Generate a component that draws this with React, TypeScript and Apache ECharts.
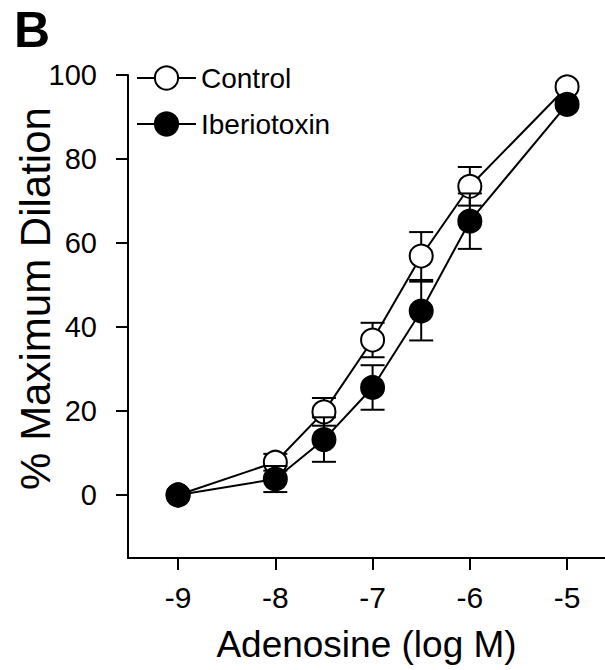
import React, { useEffect, useRef } from "react";
import * as echarts from "echarts";

const xValues = [-9, -8, -7.5, -7, -6.5, -6, -5];
const controlMean = [0, 7.8, 19.8, 36.9, 56.9, 73.5, 97.2];
const controlSem = [0, 2.0, 3.3, 4.1, 5.7, 4.6, 0.8];
const iberMean = [0, 3.8, 13.2, 25.6, 43.8, 65.2, 93.0];
const iberSem = [0, 3.1, 5.3, 5.3, 7.0, 6.6, 0.8];
const xTicks = [-9, -8, -7, -6, -5];
const yTicks = [0, 20, 40, 60, 80, 100];

const FONT = "Liberation Sans, Arial, sans-serif";

function errorRender(params: any, api: any) {
  const x = api.value(0);
  const y = api.value(1);
  const e = api.value(2);
  if (!e) return null;
  const hi = api.coord([x, y + e]);
  const lo = api.coord([x, y - e]);
  const w = 12;
  const st = { stroke: "#000", lineWidth: 2 };
  return {
    type: "group",
    children: [
      { type: "line", shape: { x1: hi[0], y1: hi[1], x2: lo[0], y2: lo[1] }, style: st },
      { type: "line", shape: { x1: hi[0] - w, y1: hi[1], x2: hi[0] + w, y2: hi[1] }, style: st },
      { type: "line", shape: { x1: lo[0] - w, y1: lo[1], x2: lo[0] + w, y2: lo[1] }, style: st },
    ],
  };
}

export default function App() {
  const ref = useRef<HTMLDivElement>(null);
  useEffect(() => {
    if (!ref.current) return;
    const chart = echarts.init(ref.current, null, { renderer: "svg" });
    const controlData = xValues.map((x, i) => [x, controlMean[i]]);
    const iberData = xValues.map((x, i) => [x, iberMean[i]]);
    const controlErr = xValues.map((x, i) => [x, controlMean[i], controlSem[i]]);
    const iberErr = xValues.map((x, i) => [x, iberMean[i], iberSem[i]]);
    chart.setOption({
      animation: false,
      backgroundColor: "#fff",
      textStyle: { fontFamily: FONT, color: "#000" },
      grid: { left: 128, right: 0, top: 75, bottom: 112, outerBoundsMode: "none", containLabel: false },
      legend: {
        data: ["Control", "Iberiotoxin"],
        orient: "vertical",
        left: 131,
        top: 59,
        itemWidth: 59,
        itemHeight: 29,
        itemGap: 18,
        textStyle: { fontFamily: FONT, fontSize: 28, color: "#000" },
      },
      xAxis: {
        type: "value",
        min: -9.515,
        max: -4.61,
        name: "Adenosine (log M)",
        nameLocation: "middle",
        nameGap: 68,
        nameMoveOverlap: false,
        nameTextStyle: { fontFamily: FONT, fontSize: 37, color: "#000" },
        axisLine: { onZero: false, lineStyle: { color: "#000", width: 2 } },
        axisTick: { show: true, customValues: xTicks, length: 12, lineStyle: { color: "#000", width: 2 } },
        axisLabel: { customValues: xTicks, fontFamily: FONT, fontSize: 30, color: "#000", margin: 24 },
        splitLine: { show: false },
      },
      yAxis: {
        type: "value",
        min: -15,
        max: 100,
        name: "% Maximum Dilation",
        nameLocation: "middle",
        nameGap: 72,
        nameMoveOverlap: false,
        nameTextStyle: { fontFamily: FONT, fontSize: 42, color: "#000", padding: [0, 0, 0, 36] },
        axisLine: { show: true, onZero: false, lineStyle: { color: "#000", width: 2 } },
        axisTick: { show: true, customValues: yTicks, length: 12, lineStyle: { color: "#000", width: 2 } },
        axisLabel: { customValues: yTicks, fontFamily: FONT, fontSize: 29, color: "#000", margin: 31 },
        splitLine: { show: false },
      },
      graphic: [
        {
          type: "text",
          left: 14,
          top: 5,
          style: { text: "B", fontFamily: FONT, fontWeight: "bold", fontSize: 50, fill: "#000" },
        },
      ],
      series: [
        {
          name: "Control SEM",
          type: "custom",
          z: 2,
          renderItem: errorRender,
          encode: { x: 0, y: 1 },
          data: controlErr,
        },
        {
          name: "Control",
          type: "line",
          z: 3,
          data: controlData,
          symbol: "circle",
          symbolSize: 23,
          lineStyle: { color: "#000", width: 2 },
          itemStyle: { color: "#fff", borderColor: "#000", borderWidth: 2 },
        },
        {
          name: "Iberiotoxin SEM",
          type: "custom",
          z: 4,
          renderItem: errorRender,
          encode: { x: 0, y: 1 },
          data: iberErr,
        },
        {
          name: "Iberiotoxin",
          type: "line",
          z: 5,
          data: iberData,
          symbol: "circle",
          symbolSize: 23,
          lineStyle: { color: "#000", width: 2 },
          itemStyle: { color: "#000", borderColor: "#000", borderWidth: 2 },
        },
      ],
    });
    return () => chart.dispose();
  }, []);
  return (
    <div
      ref={ref}
      style={{ position: "fixed", left: 0, top: 0, width: 605, height: 670, background: "#fff" }}
    />
  );
}
